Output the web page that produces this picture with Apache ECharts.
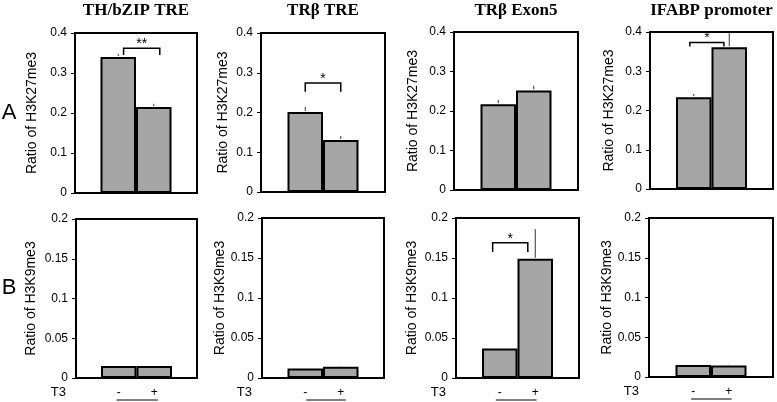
<!DOCTYPE html>
<html><head><meta charset="utf-8">
<script src="https://cdn.jsdelivr.net/npm/echarts@6/dist/echarts.min.js"></script>
<style>html,body{margin:0;padding:0;background:#fff}#c{width:777px;height:402px}</style>
</head><body><div id="c"></div>
<script>
// ---- data ----
const panelTitles = ['TH/bZIP TRE', 'TRβ TRE', 'TRβ Exon5', 'IFABP promoter'];
const rowLabels = ['A', 'B'];
const yNames = ['Ratio of H3K27me3', 'Ratio of H3K9me3'];
const t3Labels = ['-', '+'];
const rowMax = [0.4, 0.2];
const rowInterval = [0.1, 0.05];

// H3K27me3 (row A), T3 - / T3 +
const k27Minus = [0.340, 0.201, 0.217, 0.234];
const k27Plus = [0.215, 0.131, 0.252, 0.361];
const k27MinusErr = [0.008, 0.013, 0.011, 0.008];
const k27PlusErr = [0.008, 0.010, 0.012, 0.036];
// H3K9me3 (row B)
const k9Minus = [0.015, 0.012, 0.037, 0.015];
const k9Plus = [0.015, 0.014, 0.149, 0.0145];
const k9MinusErr = [0.000, 0.000, 0.000, 0.000];
const k9PlusErr = [0.000, 0.001, 0.037, 0.001];

// significance brackets (x in bar index units, y in data units)
const k27SigMark = ['**', '*', '', '*'];
const k27SigFrom = [0.15, 0.0, 0, -0.11];
const k27SigTo = [1.17, 1.0, 0, 0.85];
const k27SigTop = [0.362, 0.274, 0, 0.373];
const k27SigLeg = [0.345, 0.252, 0, 0.363];
const k9SigMark = ['', '', '*', ''];
const k9SigFrom = [0, 0, -0.2, 0];
const k9SigTo = [0, 0, 0.79, 0];
const k9SigTop = [0, 0, 0.169, 0];
const k9SigLeg = [0, 0, 0.1575, 0];
// T3 underline extent (bar index units)
const ulFrom = [-0.06, 0.03, -0.11, -0.06];
const ulTo = [1.10, 1.14, 1.04, 1.08];

// ---- layout ----
const FONT = "'Liberation Sans', Arial, sans-serif";
const SERIF = "'Liberation Serif', 'DejaVu Serif', serif";
const BAR_W = 35.5;
const grids = [
  {left: 75, top: 33, width: 122, height: 160},
  {left: 261, top: 33, width: 124, height: 159},
  {left: 454, top: 32, width: 124, height: 158},
  {left: 650, top: 32, width: 123, height: 157},
  {left: 76, top: 219, width: 121, height: 159},
  {left: 262, top: 218, width: 122, height: 160},
  {left: 456, top: 218, width: 123, height: 160},
  {left: 649, top: 218, width: 124, height: 159}
];
const nameGaps = [36, 31, 34, 34, 38, 32, 37, 34];

const option = {animation: false, backgroundColor: '#fff', grid: [], xAxis: [], yAxis: [], series: [], graphic: []};

for (let p = 0; p < 8; p++) {
  const row = p < 4 ? 0 : 1, col = p % 4;
  const g = grids[p];
  const minus = row === 0 ? k27Minus : k9Minus;
  const plus = row === 0 ? k27Plus : k9Plus;
  const minusErr = row === 0 ? k27MinusErr : k9MinusErr;
  const plusErr = row === 0 ? k27PlusErr : k9PlusErr;
  const sigMark = row === 0 ? k27SigMark : k9SigMark;
  const sigFrom = row === 0 ? k27SigFrom : k9SigFrom;
  const sigTo = row === 0 ? k27SigTo : k9SigTo;
  const sigTop = row === 0 ? k27SigTop : k9SigTop;
  const sigLeg = row === 0 ? k27SigLeg : k9SigLeg;

  option.grid.push({left: g.left, top: g.top, width: g.width, height: g.height, show: true,
    borderColor: '#000', borderWidth: 2, backgroundColor: '#fff'});
  const half = g.width / 2 / BAR_W;
  option.xAxis.push({
    type: 'value', gridIndex: p, min: 0.5 - half, max: 0.5 + half,
    axisLine: {show: false, onZero: false}, axisTick: {show: false}, splitLine: {show: false},
    axisLabel: row === 1 ? {show: true, customValues: [0, 1], formatter: v => t3Labels[Math.round(v)],
      margin: 9, fontSize: 12, color: '#000', fontFamily: FONT} : {show: false},
    name: row === 1 ? 'T3' : '', nameLocation: 'start', nameGap: 10,
    nameTextStyle: {fontSize: 13, color: '#000', fontFamily: FONT, verticalAlign: 'top', padding: [8, 0, 0, 0]}
  });
  option.yAxis.push({
    type: 'value', gridIndex: p, min: 0, max: rowMax[row], interval: rowInterval[row],
    axisLine: {show: false, onZero: false},
    axisTick: {show: true, length: 4, lineStyle: {color: '#000', width: 1}},
    splitLine: {show: false},
    axisLabel: {fontSize: 12, color: '#000', fontFamily: FONT, margin: 8},
    name: yNames[row], nameLocation: 'middle', nameRotate: 90, nameGap: nameGaps[p],
    nameTextStyle: {fontSize: 14, color: '#000', fontFamily: FONT}
  });

  option.series.push({
    type: 'bar', xAxisIndex: p, yAxisIndex: p, barWidth: BAR_W,
    data: [[0, minus[col]], [1, plus[col]]],
    itemStyle: {color: '#a6a6a6', borderColor: '#000', borderWidth: 2}, z: 2
  });
  option.series.push({
    type: 'custom', xAxisIndex: p, yAxisIndex: p, z: 3,
    data: [[0, minus[col], minusErr[col]], [1, plus[col], plusErr[col]]],
    encode: {x: 0, y: 1},
    renderItem: function (params, api) {
      const e = api.value(2);
      if (!(e > 0)) return null;
      const a = api.coord([api.value(0), api.value(1)]);
      const b = api.coord([api.value(0), api.value(1) + e]);
      return {type: 'line', shape: {x1: a[0], y1: a[1] - 1, x2: b[0], y2: b[1]}, style: {stroke: '#333', lineWidth: 1}};
    }
  });
  if (sigMark[col]) {
    option.series.push({
      type: 'custom', xAxisIndex: p, yAxisIndex: p, z: 4,
      data: [[sigFrom[col], sigTo[col], sigTop[col], sigLeg[col]]],
      encode: {x: [0, 1], y: [2, 3]},
      renderItem: function (params, api) {
        const a = api.coord([api.value(0), api.value(3)]);
        const b = api.coord([api.value(0), api.value(2)]);
        const c = api.coord([api.value(1), api.value(2)]);
        const d = api.coord([api.value(1), api.value(3)]);
        return {type: 'group', children: [
          {type: 'polyline', shape: {points: [a, b, c, d]}, style: {stroke: '#000', lineWidth: 1.5, fill: null}},
          {type: 'text', x: (b[0] + c[0]) / 2, y: b[1] + 3,
            style: {text: sigMark[col], fontSize: 14, fontFamily: FONT, fill: '#000', align: 'center', verticalAlign: 'bottom'}}
        ]};
      }
    });
  }
  if (row === 1) {
    option.series.push({
      type: 'custom', xAxisIndex: p, yAxisIndex: p, z: 4, clip: false,
      data: [[ulFrom[col], ulTo[col]]],
      encode: {x: [0, 1]},
      renderItem: function (params, api) {
        const a = api.coord([api.value(0), 0]);
        const b = api.coord([api.value(1), 0]);
        const y = params.coordSys.y + params.coordSys.height + 22;
        return {type: 'line', shape: {x1: a[0], y1: y, x2: b[0], y2: y}, style: {stroke: '#000', lineWidth: 1}};
      }
    });
  }
}

for (let c = 0; c < 4; c++) {
  const g = grids[c];
  option.graphic.push({type: 'text', x: g.left + g.width / 2, y: 11,
    style: {text: panelTitles[c], font: 'bold 17px ' + SERIF, fill: '#000', align: 'center', verticalAlign: 'middle', textAlign: 'center', textVerticalAlign: 'middle'}});
}
option.graphic.push({type: 'text', x: 9, y: 113, style: {text: rowLabels[0], font: '22px ' + FONT, fill: '#000', align: 'center', verticalAlign: 'middle', textAlign: 'center', textVerticalAlign: 'middle'}});
option.graphic.push({type: 'text', x: 9, y: 288, style: {text: rowLabels[1], font: '22px ' + FONT, fill: '#000', align: 'center', verticalAlign: 'middle', textAlign: 'center', textVerticalAlign: 'middle'}});

const chart = echarts.init(document.getElementById('c'));
chart.setOption(option);
</script></body></html>
